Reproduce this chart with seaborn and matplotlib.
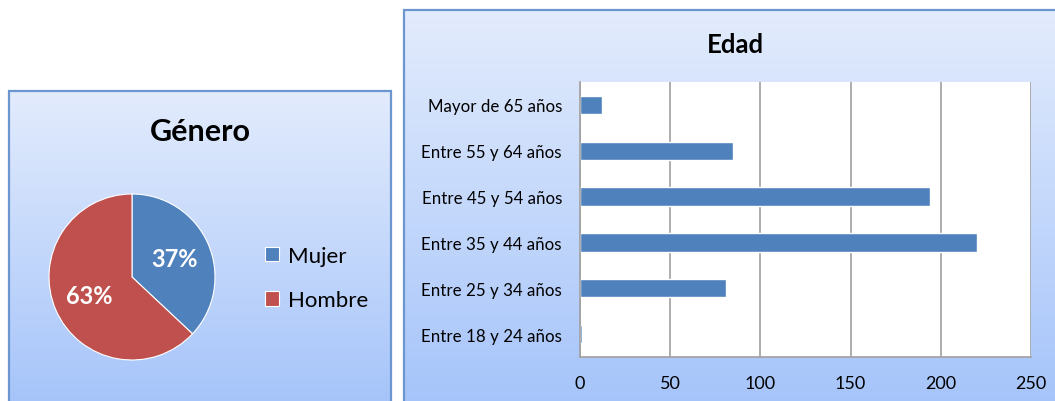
import numpy as np
import matplotlib.pyplot as plt
import matplotlib.patches as mpatches
import seaborn as sns

# data
genero_labels = ["Mujer", "Hombre"]
genero_values = [37, 63]
genero_colors = ["#4F81BD", "#C0504D"]

edad_labels = ["Mayor de 65 años", "Entre 55 y 64 años", "Entre 45 y 54 años",
               "Entre 35 y 44 años", "Entre 25 y 34 años", "Entre 18 y 24 años"]
edad_values = [12, 85, 194, 220, 81, 1]
edad_ticks = [0, 50, 100, 150, 200, 250]

sns.set_style("white")
plt.rcParams['font.family'] = ['Lato', 'DejaVu Sans']
plt.rcParams['text.color'] = 'black'
plt.rcParams['xtick.color'] = 'black'
plt.rcParams['ytick.color'] = 'black'

W, H = 1055, 402
fig = plt.figure(figsize=(W / 100, H / 100), dpi=100)


def px_axes(x0, y0, x1, y1, **kw):
    # pixel box with top-left origin -> figure axes
    return fig.add_axes([x0 / W, 1 - y1 / H, (x1 - x0) / W, (y1 - y0) / H], **kw)


def panel(x0, y0, x1, y1):
    bg = px_axes(x0, y0, x1, y1)
    grad = np.linspace(0, 1, 256)[:, None, None]
    top = np.array([0.89, 0.925, 0.99])
    bot = np.array([0.65, 0.77, 0.98])
    img = top + (bot - top) * grad
    bg.imshow(img, aspect='auto', extent=[0, 1, 0, 1])
    bg.set_axis_off()
    fig.patches.append(mpatches.Rectangle((x0 / W, 1 - y1 / H), (x1 - x0) / W, (y1 - y0) / H,
                                          transform=fig.transFigure, fill=False,
                                          edgecolor='#6B96D0', lw=1.6))


# panel backgrounds
panel(9, 92, 391, 404)
panel(404, 11, 1060, 404)

# pie chart
pax = px_axes(49, 195, 215, 361)
wedges, texts, autotexts = pax.pie(
    genero_values, colors=genero_colors, startangle=90, counterclock=False,
    autopct='%.0f%%', pctdistance=0.56,
    wedgeprops=dict(edgecolor='white', linewidth=0.8),
    textprops=dict(color='white', fontweight='bold', fontsize=17))
pax.set_xlim(-1, 1)
pax.set_ylim(-1, 1)
pax.set_aspect('equal')

fig.legend(wedges, genero_labels, loc='center left', bbox_to_anchor=(245 / W, 1 - 279 / H),
           frameon=False, fontsize=16, handlelength=0.65, handleheight=0.65,
           handletextpad=0.4, labelspacing=1.1)
fig.text(200 / W, 1 - 132 / H, "Género", ha='center', va='center', fontsize=22, fontweight='bold')

# bar chart
ax = px_axes(580, 83, 1031, 358)
ax.set_facecolor('white')
sns.barplot(x=edad_values, y=edad_labels, orient='h', color='#4F81BD', width=0.4,
            saturation=1, ax=ax)
ax.set_xlim(0, 250)
ax.set_ylim(5.5, -0.5)
ax.set_xticks(edad_ticks)
ax.set_yticks(np.arange(-0.5, 6, 1), minor=True)
ax.grid(axis='x', color='#A0A0A0', lw=1.2)
ax.grid(axis='y', visible=False)
ax.set_axisbelow(True)
ax.tick_params(axis='y', which='major', length=0, pad=13, labelsize=12.2)
ax.tick_params(axis='y', which='minor', length=5, color='#A0A0A0', width=1.2)
ax.tick_params(axis='x', length=5, color='#A0A0A0', width=1.2, pad=8, labelsize=13)
for s in ['top', 'right']:
    ax.spines[s].set_visible(False)
for s in ['left', 'bottom']:
    ax.spines[s].set_color('#A0A0A0')
    ax.spines[s].set_linewidth(1.2)
ax.set_xlabel('')
ax.set_ylabel('')
fig.text(735 / W, 1 - 45 / H, "Edad", ha='center', va='center', fontsize=18.5, fontweight='bold')

fig.savefig("out.png", dpi=100)
